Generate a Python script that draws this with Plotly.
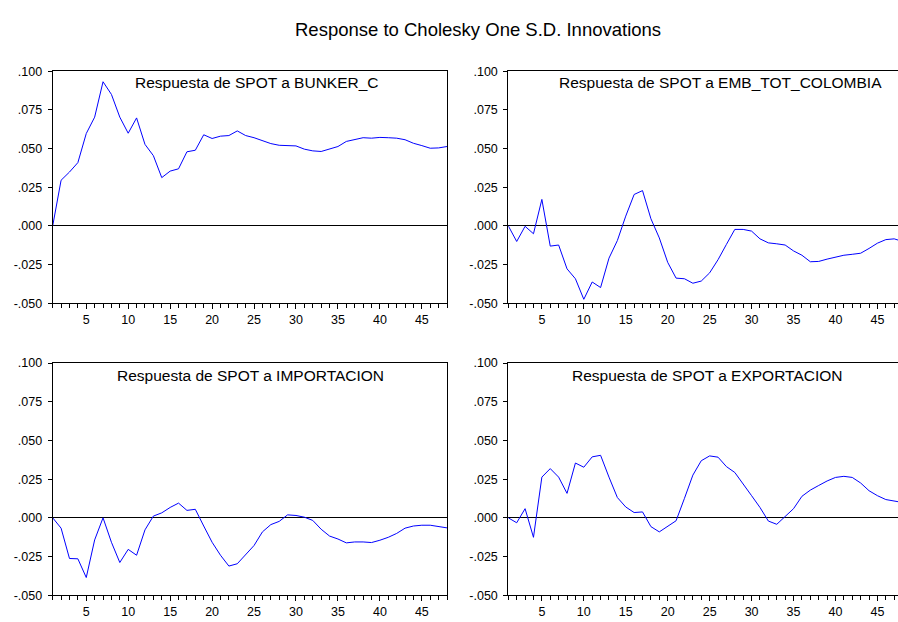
import plotly.graph_objects as go

periods = list(range(1, 49))

bunker_c = [0.0, 0.0295, 0.0348, 0.0409, 0.0597, 0.0703, 0.0932, 0.085, 0.0703, 0.0599,
            0.0698, 0.0527, 0.0454, 0.0312, 0.0354, 0.0369, 0.0479, 0.0489, 0.0589, 0.0565,
            0.058, 0.0584, 0.0614, 0.0584, 0.057, 0.0553, 0.0532, 0.0521, 0.0517, 0.0517,
            0.0496, 0.0485, 0.0481, 0.0496, 0.0513, 0.0546, 0.0557, 0.057, 0.0567, 0.0572,
            0.057, 0.0567, 0.0557, 0.0534, 0.0519, 0.0502, 0.0504, 0.0513]

emb_tot_colombia = [0.0, -0.0101, -0.0003, -0.0051, 0.0171, -0.0131, -0.0124, -0.0278, -0.0342, -0.0475,
                    -0.0363, -0.0399, -0.0209, -0.0095, 0.0063, 0.0203, 0.0228, 0.0046, -0.0078, -0.0236,
                    -0.0338, -0.0342, -0.0371, -0.0357, -0.0304, -0.0219, -0.012, -0.0023, -0.0023, -0.0034,
                    -0.0084, -0.011, -0.0116, -0.0124, -0.0162, -0.019, -0.0232, -0.023, -0.0215, -0.02,
                    -0.019, -0.0184, -0.0177, -0.0146, -0.0112, -0.0089, -0.0084, -0.0101]

importacion = [0.0, -0.0067, -0.0263, -0.0265, -0.0386, -0.0143, 0.0, -0.0158, -0.0289, -0.0204,
               -0.0242, -0.0078, 0.0011, 0.0032, 0.0067, 0.0095, 0.0048, 0.0055, -0.0053, -0.0158,
               -0.0242, -0.0312, -0.0297, -0.0238, -0.0179, -0.0091, -0.0044, -0.0023, 0.0019, 0.0015,
               0.0004, -0.0017, -0.0074, -0.0118, -0.0137, -0.0162, -0.0156, -0.0156, -0.016, -0.0145,
               -0.0126, -0.0101, -0.0067, -0.0053, -0.0048, -0.0048, -0.0057, -0.0065]

exportacion = [0.0, -0.0032, 0.0059, -0.0126, 0.0263, 0.0318, 0.0263, 0.0158, 0.0354, 0.0327,
               0.0394, 0.0404, 0.0263, 0.0131, 0.007, 0.0034, 0.0038, -0.0057, -0.0091, -0.0053,
               -0.0019, 0.0126, 0.0276, 0.0369, 0.04, 0.0392, 0.0331, 0.0293, 0.0221, 0.0143,
               0.0067, -0.0021, -0.0042, 0.0011, 0.0059, 0.0139, 0.0179, 0.0209, 0.0238, 0.0261,
               0.0268, 0.0261, 0.0225, 0.0175, 0.0143, 0.0118, 0.0107, 0.0099]

panel_titles = ["Respuesta de SPOT a BUNKER_C", "Respuesta de SPOT a EMB_TOT_COLOMBIA",
                "Respuesta de SPOT a IMPORTACION", "Respuesta de SPOT a EXPORTACION"]
y_tick_vals = [-0.05, -0.025, 0.0, 0.025, 0.05, 0.075, 0.1]
y_tick_text = ["-.050", "-.025", ".000", ".025", ".050", ".075", ".100"]
main_title = "Response to Cholesky One S.D. Innovations"

W, H = 898, 622
FONT = "Liberation Sans, Arial, sans-serif"

# pixel geometry of panels
left_x = (52.7, 447.0)
right_x = (508.3, 898.0)
top_y = (65.7, 303.0)
bot_y = (364.3, 601.7)
step = (447.0 - 52.7) / 47.0
right_range_end = 1 + (right_x[1] - right_x[0]) / step

def xd(p):
    return [p[0] / W, p[1] / W]

def yd(p):
    return [1 - p[1] / H, 1 - p[0] / H]

series = [bunker_c, emb_tot_colombia, importacion, exportacion]
geoms = [(left_x, top_y, True), (right_x, top_y, False), (left_x, bot_y, True), (right_x, bot_y, False)]
title_pos = [(257, 77.7), (720, 77.7), (250, 376.7), (707, 376.7)]

fig = go.Figure()
layout = dict(
    width=W, height=H,
    margin=dict(l=0, r=0, t=0, b=0),
    paper_bgcolor="white", plot_bgcolor="white",
    showlegend=False,
    font=dict(family=FONT, color="black", size=12),
)

annotations = [dict(text=main_title, x=477.5 / W, y=1 - 23.3 / H, xref="paper", yref="paper",
                    showarrow=False, font=dict(size=18.5, family=FONT, color="black"),
                    xanchor="center", yanchor="middle")]

TICKFONT = dict(size=12.5, family=FONT, color="black")

for i, (vals, (gx, gy, is_left)) in enumerate(zip(series, geoms)):
    n = i + 1
    xa = "x" if n == 1 else f"x{n}"
    ya = "y" if n == 1 else f"y{n}"
    fig.add_trace(go.Scatter(x=periods, y=vals, mode="lines",
                             line=dict(color="#0000FF", width=1),
                             xaxis=xa, yaxis=ya, hoverinfo="skip"))
    xkey = "xaxis" if n == 1 else f"xaxis{n}"
    ykey = "yaxis" if n == 1 else f"yaxis{n}"
    layout[xkey] = dict(
        domain=xd(gx), anchor=ya,
        range=[1, 48] if is_left else [1, right_range_end],
        showgrid=False, zeroline=False,
        showline=True, linecolor="black", linewidth=1, mirror=True,
        ticks="outside", ticklen=5, tickcolor="black",
        tick0=5, dtick=5,
        minor=dict(dtick=1, tick0=0, ticks="outside", ticklen=4, tickcolor="black"),
        tickfont=TICKFONT,
        fixedrange=True,
    )
    layout[ykey] = dict(
        domain=yd(gy), anchor=xa,
        range=[-0.05, 0.1],
        showgrid=False,
        zeroline=True, zerolinecolor="black", zerolinewidth=1,
        showline=True, linecolor="black", linewidth=1, mirror=is_left,
        ticks="outside", ticklen=4, tickcolor="black",
        tickvals=y_tick_vals, ticktext=y_tick_text,
        ticklabelstandoff=3,
        tickfont=TICKFONT,
        fixedrange=True,
    )
    tx, ty = title_pos[i]
    annotations.append(dict(text=panel_titles[i], x=tx / W, y=1 - ty / H, xref="paper", yref="paper",
                            showarrow=False, font=dict(size=15.5, family=FONT, color="black"),
                            xanchor="center", yanchor="middle"))

layout["annotations"] = annotations
fig.update_layout(**layout)
fig.write_html("out.html")
